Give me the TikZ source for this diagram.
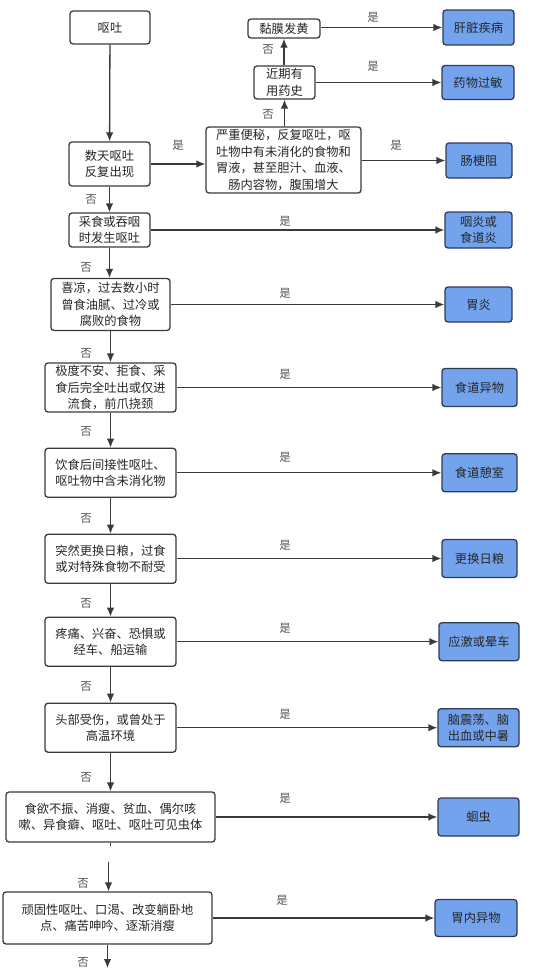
\documentclass[tikz,border=0pt]{standalone}
\usepackage{fontspec}
\newfontfamily\cjk{Noto Sans CJK SC}
\usetikzlibrary{arrows.meta}
\definecolor{boxline}{HTML}{3A3A3A}
\definecolor{bluefill}{HTML}{74A3EE}
\definecolor{bluebord}{HTML}{2E3B55}
\definecolor{lbl}{HTML}{555555}
\tikzset{
  base/.style={draw=boxline, line width=1.3bp, rounded corners=3bp, inner sep=0pt, align=center,
    font=\cjk\fontsize{12.3}{16.5}\selectfont, text=black!85},
  qbox/.style={base, fill=white},
  rbox/.style={base, fill=bluefill, draw=bluebord},
  conn/.style={draw=boxline, line width=1.3bp, -{Latex[length=9bp,width=7.5bp]}},
  lab/.style={font=\cjk\fontsize{11.5}{13}\selectfont, text=lbl, inner sep=0pt},
}
\begin{document}
\begin{tikzpicture}[x=1bp,y=-1bp]
\useasboundingbox (0,0) rectangle (538,968);
% question boxes
\node[qbox, minimum width=80bp, minimum height=33bp] (n0) at (110,27.5) {呕吐};
\node[qbox, minimum width=81bp, minimum height=44bp] (n1) at (109.5,164) {数天呕吐\\反复出现};
\node[qbox, minimum width=155bp, minimum height=66bp] (big) at (283.5,160) {严重便秘，反复呕吐，呕\\吐物中有未消化的食物和\\胃液，甚至胆汁、血液、\\肠内容物，腹围增大};
\node[qbox, minimum width=61bp, minimum height=33bp] (med) at (284.5,82.5) {近期有\\用药史};
\node[qbox, minimum width=72bp, minimum height=19bp] (muc) at (284,28.5) {黏膜发黄};
\node[qbox, minimum width=81bp, minimum height=34bp] (q2) at (109.5,230) {采食或吞咽\\时发生呕吐};
\node[qbox, minimum width=119bp, minimum height=52bp] (q3) at (110.5,304.5) {喜凉，过去数小时\\曾食油腻、过冷或\\腐败的食物};
\node[qbox, minimum width=131bp, minimum height=49bp] (q4) at (110.5,387.5) {极度不安、拒食、采\\食后完全吐出或仅进\\流食，前爪挠颈};
\node[qbox, minimum width=131bp, minimum height=49bp] (q5) at (110.5,472.8) {饮食后间接性呕吐、\\呕吐物中含未消化物};
\node[qbox, minimum width=131bp, minimum height=49bp] (q6) at (110.5,558.8) {突然更换日粮，过食\\或对特殊食物不耐受};
\node[qbox, minimum width=131bp, minimum height=49bp] (q7) at (110.5,641.7) {疼痛、兴奋、恐惧或\\经车、船运输};
\node[qbox, minimum width=131bp, minimum height=49bp] (q8) at (110.5,727.7) {头部受伤，或曾处于\\高温环境};
\node[qbox, minimum width=209bp, minimum height=50bp] (q9) at (110.5,817) {食欲不振、消瘦、贫血、偶尔咳\\嗽、异食癖、呕吐、呕吐可见虫体};
\node[qbox, minimum width=209bp, minimum height=52bp] (q10) at (107.5,918) {顽固性呕吐、口渴、改变躺卧地\\点、痛苦呻吟、逐渐消瘦};
% result boxes
\node[rbox, minimum width=71bp, minimum height=35bp] (r0) at (478.5,27.5) {肝脏疾病};
\node[rbox, minimum width=72bp, minimum height=34bp] (r1) at (478,82.5) {药物过敏};
\node[rbox, minimum width=66bp, minimum height=35bp] (r2) at (479,160.5) {肠梗阻};
\node[rbox, minimum width=67bp, minimum height=36bp] (r3) at (478.5,230) {咽炎或\\食道炎};
\node[rbox, minimum width=67bp, minimum height=35bp] (r4) at (478.5,304.5) {胃炎};
\node[rbox, minimum width=75bp, minimum height=38bp] (r5) at (479.5,387.5) {食道异物};
\node[rbox, minimum width=75bp, minimum height=38bp] (r6) at (479.5,472.8) {食道憩室};
\node[rbox, minimum width=75bp, minimum height=38bp] (r7) at (479.5,558.5) {更换日粮};
\node[rbox, minimum width=80bp, minimum height=38bp] (r8) at (479,641.7) {应激或晕车};
\node[rbox, minimum width=81bp, minimum height=38bp] (r9) at (478.5,727.7) {脑震荡、脑\\出血或中暑};
\node[rbox, minimum width=81bp, minimum height=38bp] (r10) at (478.5,817) {蛔虫};
\node[rbox, minimum width=82bp, minimum height=37bp] (r11) at (476,918) {胃内异物};
% connectors
\path[conn] (n0) -- (n1);
\path[conn] (n1.east) -- (n1.east -| big.west);
\path[conn] (big.east |- r2.west) -- (r2.west);
\path[conn] (big.north -| med.south) -- (med.south);
\path[conn] (med.north -| muc.south) -- (muc.south);
\path[conn] (med.east |- r1.west) -- (r1.west);
\path[conn] (muc.east |- r0.west) -- (r0.west);
\path[conn] (n1.south) -- (n1.south |- q2.north);
\path[conn] (q2.south) -- (q2.south |- q3.north);
\path[conn] (q3.south) -- (q3.south |- q4.north);
\path[conn] (q4) -- (q5);
\path[conn] (q5) -- (q6);
\path[conn] (q6) -- (q7);
\path[conn] (q7) -- (q8);
\path[conn] (q8) -- (q9);
\draw[boxline, line width=1.3bp] (q9.south) -- ++(0,3);
\coordinate (gap) at (108.5,861.5);
\path[conn] (gap) -- (gap |- q10.north);
\coordinate (bottom) at (107.5,968);
\path[conn] (q10.south) -- (q10.south |- bottom);
\foreach \q/\r in {q2/r3,q3/r4,q4/r5,q5/r6,q6/r7,q7/r8,q8/r9,q9/r10,q10/r11}
  \path[conn] (\q.east |- \r.west) -- (\r.west);
% labels
\node[lab] at (178,145) {是};
\node[lab] at (396,145) {是};
\node[lab] at (373,66) {是};
\node[lab] at (373,17) {是};
\node[lab] at (285,221) {是};
\node[lab] at (285,293) {是};
\node[lab] at (285,374) {是};
\node[lab] at (285,457) {是};
\node[lab] at (285,545) {是};
\node[lab] at (285,628) {是};
\node[lab] at (285,714) {是};
\node[lab] at (285,798) {是};
\node[lab] at (282,900) {是};
\node[lab] at (268,114) {否};
\node[lab] at (268,49) {否};
\node[lab] at (91,199) {否};
\node[lab] at (86,267) {否};
\node[lab] at (86,353) {否};
\node[lab] at (86,431) {否};
\node[lab] at (86,518) {否};
\node[lab] at (86,603) {否};
\node[lab] at (86,686) {否};
\node[lab] at (86,777) {否};
\node[lab] at (83,883) {否};
\node[lab] at (83,962) {否};
\end{tikzpicture}
\end{document}
